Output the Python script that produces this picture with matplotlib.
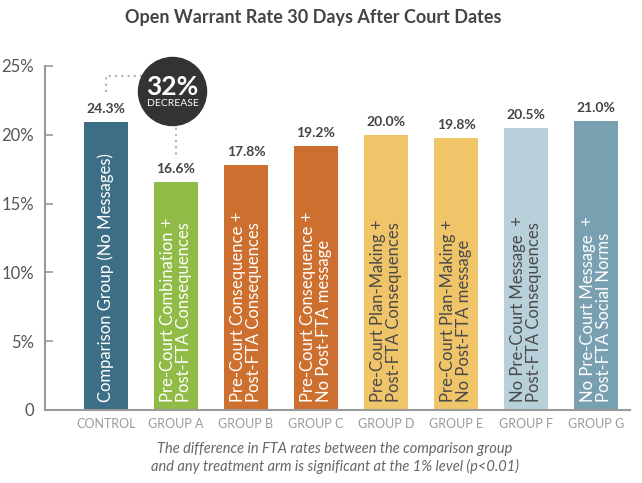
import matplotlib
matplotlib.use("Agg")
import matplotlib.pyplot as plt
import numpy as np

plt.rcParams["font.family"] = ["Lato", "DejaVu Sans"]

groups = ["CONTROL", "GROUP A", "GROUP B", "GROUP C", "GROUP D", "GROUP E", "GROUP F", "GROUP G"]
# bar heights as drawn in the source graphic (the control bar is drawn short)
bar_heights = [20.9, 16.6, 17.8, 19.2, 20.0, 19.8, 20.5, 21.0]
value_labels = ["24.3%", "16.6%", "17.8%", "19.2%", "20.0%", "19.8%", "20.5%", "21.0%"]
control_rate = 24.3
decrease_label = "32%"
descriptions = [
    "Comparison Group (No Messages)",
    "Pre-Court Combination +\nPost-FTA Consequences",
    "Pre-Court Consequence +\nPost-FTA Consequences",
    "Pre-Court Consequence +\nNo Post-FTA message",
    "Pre-Court Plan-Making +\nPost-FTA Consequences",
    "Pre-Court Plan-Making +\nNo Post-FTA message",
    "No Pre-Court Message  +\nPost-FTA Consequences",
    "No Pre-Court Message  +\nPost-FTA Social Norms",
]
colors = ["#3c6e85", "#90bb46", "#cd6f2f", "#cd6f2f", "#f0c468", "#f0c468", "#b8d0da", "#79a0b1"]
text_colors = ["white", "white", "white", "white", "#4a4a4a", "#4a4a4a", "#4a4a4a", "white"]

fig = plt.figure(figsize=(6.42, 4.83), dpi=100)
ax = fig.add_axes([45 / 642, 1 - 410 / 483, 585 / 642, 344 / 483])

x = np.arange(len(groups))
ax.bar(x, bar_heights, width=0.63, color=colors, zorder=2)

for i, (h, lab) in enumerate(zip(bar_heights, value_labels)):
    ax.annotate(lab, (i, h), xytext=(0, 5), textcoords="offset points",
                ha="center", va="bottom", fontsize=10, fontweight="bold", color="#444444")
    ax.text(i, 0.6, descriptions[i], rotation=90, ha="center", va="bottom",
            multialignment="left", fontsize=12, color=text_colors[i], linespacing=0.95)

# dotted connector and decrease badge
dot_kw = dict(color="#b0b0b0", linestyle=(0, (1, 2)), linewidth=1.5, zorder=1, clip_on=False)
ax.plot([0, 0, 1, 1], [bar_heights[0] + 2.2, control_rate, control_rate, bar_heights[1] + 1.8], **dot_kw)
ax.scatter([0.95], [23.2], s=2400, color="#333333", zorder=4, clip_on=False)
ax.text(0.95, 23.5, decrease_label, ha="center", va="center", fontsize=19,
        fontweight="bold", color="white", zorder=5)
ax.text(0.95, 22.3, "DECREASE", ha="center", va="center", fontsize=7.5,
        color="white", zorder=5)

ax.set_xlim(-0.871, 7.486)
ax.set_ylim(0, 25)
ax.set_yticks([0, 5, 10, 15, 20, 25])
ax.set_yticklabels(["0", "5%", "10%", "15%", "20%", "25%"])
ax.set_xticks(x)
ax.set_xticklabels(groups)
ax.tick_params(axis="y", direction="in", length=6, width=1.2, color="#9a9a9a",
               labelsize=12, labelcolor="#555555", pad=8)
ax.tick_params(axis="x", length=0, labelsize=9, labelcolor="#9a9a9a", pad=6)
for side in ["top", "right"]:
    ax.spines[side].set_visible(False)
for side in ["left", "bottom"]:
    ax.spines[side].set_color("#9a9a9a")
    ax.spines[side].set_linewidth(1.5)

fig.text(313 / 642, 1 - 18 / 483, "Open Warrant Rate 30 Days After Court Dates",
         ha="center", va="center", fontsize=13, fontweight="bold", color="#444444")
fig.text(335 / 642, 1 - 458 / 483,
         "The difference in FTA rates between the comparison group\n"
         "and any treatment arm is significant at the 1% level (p<0.01)",
         ha="center", va="center", fontsize=10.5, style="italic", color="#666666",
         linespacing=1.3)

fig.savefig("out.png", dpi=100)
